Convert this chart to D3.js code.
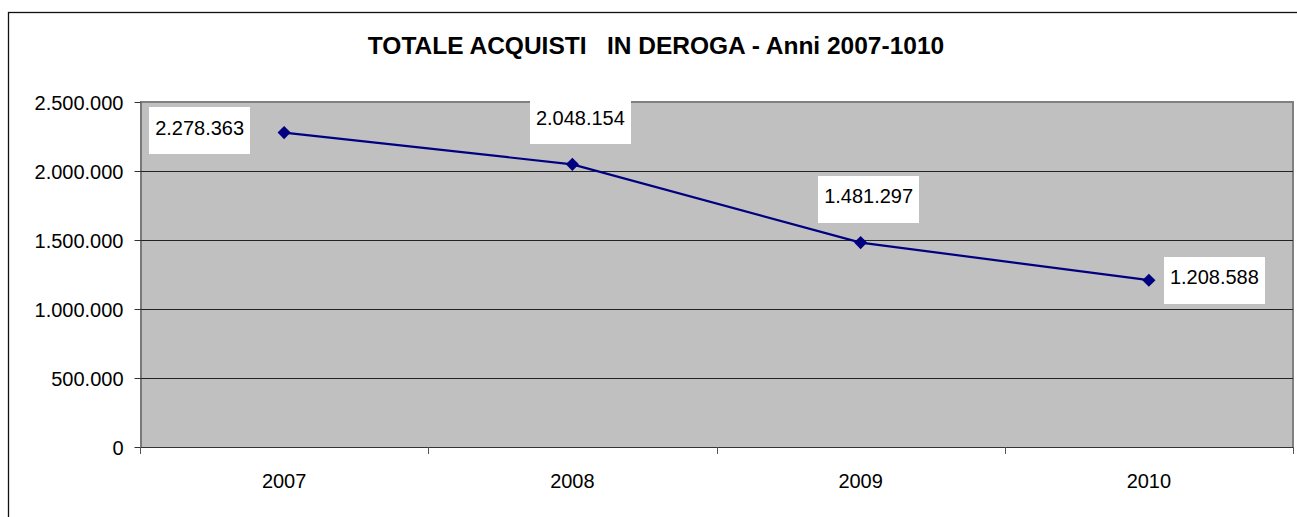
<!DOCTYPE html>
<head>
    <title>Totale acquisti in deroga</title>
    <script src="https://cdn.jsdelivr.net/npm/d3@7"></script>
    <style>
        body { margin: 0; background: #fff; }
        text { font-family: "Liberation Sans", Arial, sans-serif; }
    </style>
</head>
<body>

<div id="container"></div>

<script>

// Dati del grafico
const anni = ["2007", "2008", "2009", "2010"];
const acquisti = [2278363, 2048154, 1481297, 1208588];
const yTicks = [0, 500000, 1000000, 1500000, 2000000, 2500000];
const titolo = "TOTALE ACQUISTI   IN DEROGA - Anni 2007-1010";
// posizione etichette (come in Excel)
const posEtichette = ["left", "above", "above", "right"];

// Dimensioni
const width = 1297;
const height = 517;
const marginTop = 102;
const marginRight = 4;
const marginBottom = 70;
const marginLeft = 140;

const it = d3.formatLocale({decimal: ",", thousands: ".", grouping: [3], currency: ["", "€"]});
const fmt = it.format(",d");

const svg = d3.create("svg")
    .attr("width", width)
    .attr("height", height);

// cornice esterna
svg.append("rect")
    .attr("x", 8.5)
    .attr("y", 12.5)
    .attr("width", width + 20)
    .attr("height", height + 20)
    .attr("fill", "#fff")
    .attr("stroke", "#111")
    .attr("stroke-width", 1.3);

const x = d3.scaleBand()
    .domain(anni)
    .range([marginLeft, width - marginRight])
    .padding(0);

const y = d3.scaleLinear()
    .domain([0, 2500000])
    .range([height - marginBottom, marginTop]);

// area del grafico
svg.append("rect")
    .attr("x", marginLeft)
    .attr("y", marginTop)
    .attr("width", width - marginRight - marginLeft)
    .attr("height", height - marginBottom - marginTop)
    .attr("fill", "#c0c0c0");

// bordo grigio alto e destro
svg.append("path")
    .attr("d", `M${marginLeft},${marginTop} H${width - marginRight} V${height - marginBottom}`)
    .attr("fill", "none")
    .attr("stroke", "#808080")
    .attr("stroke-width", 2);

// griglia
svg.append("g")
    .selectAll("line")
    .data(yTicks.filter(d => d > 0 && d < 2500000))
    .join("line")
    .attr("x1", marginLeft)
    .attr("x2", width - marginRight)
    .attr("y1", d => Math.round(y(d)) + 0.5)
    .attr("y2", d => Math.round(y(d)) + 0.5)
    .attr("stroke", "#222")
    .attr("stroke-width", 1);

// asse y
const yAxis = svg.append("g")
    .attr("transform", `translate(${marginLeft + 0.5},0)`)
    .call(d3.axisLeft(y).tickValues(yTicks).tickFormat(fmt).tickSize(6).tickPadding(11).tickSizeOuter(0));
yAxis.select(".domain").attr("stroke", "#333");
yAxis.selectAll(".tick line").attr("stroke", "#333");
yAxis.selectAll("text")
    .attr("font-size", 20)
    .attr("fill", "#000")
    .attr("dy", "0.36em")
    .style("font-family", "'Liberation Sans', Arial, sans-serif");

// asse x
const baseY = height - marginBottom;
svg.append("line")
    .attr("x1", marginLeft)
    .attr("x2", width - marginRight)
    .attr("y1", baseY + 0.5)
    .attr("y2", baseY + 0.5)
    .attr("stroke", "#333");

const bordi = anni.map(d => x(d)).concat([x(anni[anni.length - 1]) + x.bandwidth()]);
svg.append("g")
    .selectAll("line")
    .data(bordi)
    .join("line")
    .attr("x1", d => Math.round(d) + 0.5)
    .attr("x2", d => Math.round(d) + 0.5)
    .attr("y1", baseY)
    .attr("y2", baseY + 7)
    .attr("stroke", "#555");

svg.append("g")
    .selectAll("text")
    .data(anni)
    .join("text")
    .attr("x", d => x(d) + x.bandwidth() / 2)
    .attr("y", baseY + 41)
    .attr("text-anchor", "middle")
    .attr("font-size", 20)
    .text(d => d);

// linea
const punti = anni.map((a, i) => [x(a) + x.bandwidth() / 2, y(acquisti[i])]);

svg.append("path")
    .datum(punti)
    .attr("d", d3.line())
    .attr("fill", "none")
    .attr("stroke", "#000080")
    .attr("stroke-width", 2.2);

svg.append("g")
    .selectAll("path")
    .data(punti)
    .join("path")
    .attr("d", d3.symbol(d3.symbolDiamond2, 110))
    .attr("transform", d => `translate(${d[0]},${d[1]})`)
    .attr("fill", "#000080");

// etichette dati
const boxW = 101;
const boxH = 47;
const etichette = svg.append("g");
punti.forEach((p, i) => {
    let cx, cy;
    if (posEtichette[i] === "left") {
        cx = p[0] - 34 - boxW / 2;
        cy = p[1] - 2;
    } else if (posEtichette[i] === "right") {
        cx = p[0] + 15 + boxW / 2;
        cy = p[1];
    } else {
        cx = p[0] + 8;
        cy = p[1] - 20 - boxH / 2;
    }
    etichette.append("rect")
        .attr("x", Math.round(cx - boxW / 2))
        .attr("y", Math.round(cy - boxH / 2))
        .attr("width", boxW)
        .attr("height", boxH)
        .attr("fill", "#fff");
    etichette.append("text")
        .attr("x", cx)
        .attr("y", cy)
        .attr("dy", "0.21em")
        .attr("text-anchor", "middle")
        .attr("font-size", 20)
        .text(fmt(acquisti[i]));
});

// titolo
svg.append("text")
    .attr("x", 656)
    .attr("y", 54)
    .attr("text-anchor", "middle")
    .attr("font-size", 24.5)
    .attr("font-weight", "bold")
    .style("white-space", "pre")
    .text(titolo);

document.getElementById("container").append(svg.node());

</script>

</body>
